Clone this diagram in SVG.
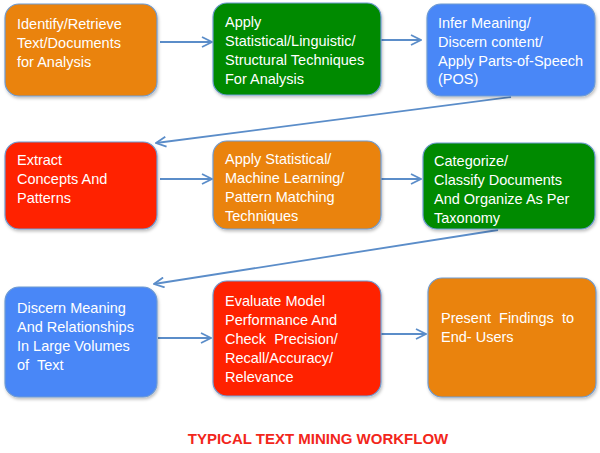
<svg xmlns="http://www.w3.org/2000/svg" width="600" height="453" viewBox="0 0 600 453">
<defs>
<marker id="ah" viewBox="0 0 12 12" refX="11" refY="6" markerWidth="12" markerHeight="12" markerUnits="userSpaceOnUse" orient="auto">
<path d="M1,1 L11,6 L1,11" fill="none" stroke="#5B8DC9" stroke-width="1.8"/>
</marker>
<filter id="sh" x="-10%" y="-10%" width="125%" height="130%">
<feDropShadow dx="1" dy="2" stdDeviation="1.5" flood-color="#000" flood-opacity="0.25"/>
</filter>
</defs>
<style>
.box{stroke:#6E9BD2;stroke-width:1.2;filter:url(#sh)}
.or{fill:#EA830B}.gr{fill:#038A03}.bl{fill:#4A87F7}.rd{fill:#FF2300}
.t{font-family:"Liberation Sans",Arial,sans-serif;font-size:14.5px;fill:#fff;white-space:pre}
.c{fill:none;stroke:#5B8DC9;stroke-width:1.8;marker-end:url(#ah)}
.title{font-family:"Liberation Sans",Arial,sans-serif;font-size:15px;font-weight:bold;fill:#F2261B}
</style>
<rect width="600" height="453" fill="#fff"/>
<g id="connectors">
<line class="c" x1="160" y1="42" x2="212" y2="42"/>
<line class="c" x1="370" y1="40" x2="421" y2="40"/>
<line class="c" x1="511" y1="97" x2="156" y2="143"/>
<line class="c" x1="160" y1="179" x2="212" y2="179"/>
<line class="c" x1="368" y1="179" x2="421" y2="179"/>
<line class="c" x1="498" y1="230" x2="154" y2="284"/>
<line class="c" x1="158" y1="338" x2="211" y2="338"/>
<line class="c" x1="374" y1="334" x2="426" y2="334"/>
</g>
<g id="n1">
<rect class="box or" x="5" y="4" width="152" height="92" rx="14"/>
<text class="t" x="17" y="29">Identify/Retrieve</text>
<text class="t" x="17" y="48">Text/Documents</text>
<text class="t" x="17" y="67">for Analysis</text>
</g>
<g id="n2">
<rect class="box gr" x="213" y="3" width="168" height="92" rx="14"/>
<text class="t" x="225" y="27">Apply</text>
<text class="t" x="225" y="46">Statistical/Linguistic/</text>
<text class="t" x="225" y="65">Structural Techniques</text>
<text class="t" x="225" y="84">For Analysis</text>
</g>
<g id="n3">
<rect class="box bl" x="427" y="4" width="168" height="92" rx="14"/>
<text class="t" x="438" y="28">Infer Meaning/</text>
<text class="t" x="438" y="47">Discern content/</text>
<text class="t" x="438" y="66">Apply Parts-of-Speech</text>
<text class="t" x="438" y="84">(POS)</text>
</g>
<g id="n4">
<rect class="box rd" x="5" y="142" width="152" height="87" rx="14"/>
<text class="t" x="17" y="165">Extract</text>
<text class="t" x="17" y="184">Concepts And</text>
<text class="t" x="17" y="203">Patterns</text>
</g>
<g id="n5">
<rect class="box or" x="213" y="141" width="168" height="88" rx="14"/>
<text class="t" x="225" y="164">Apply Statistical/</text>
<text class="t" x="225" y="183">Machine Learning/</text>
<text class="t" x="225" y="202">Pattern Matching</text>
<text class="t" x="225" y="221">Techniques</text>
</g>
<g id="n6">
<rect class="box gr" x="423" y="143" width="172" height="86" rx="14"/>
<text class="t" x="434" y="166">Categorize/</text>
<text class="t" x="434" y="185">Classify Documents</text>
<text class="t" x="434" y="204">And Organize As Per</text>
<text class="t" x="434" y="223">Taxonomy</text>
</g>
<g id="n7">
<rect class="box bl" x="5" y="287" width="152" height="110" rx="14"/>
<text class="t" x="17" y="313">Discern Meaning</text>
<text class="t" x="17" y="332">And Relationships</text>
<text class="t" x="17" y="351">In Large Volumes</text>
<text class="t" x="17" y="370">of  Text</text>
</g>
<g id="n8">
<rect class="box rd" x="213" y="281" width="168" height="115" rx="14"/>
<text class="t" x="225" y="306">Evaluate Model</text>
<text class="t" x="225" y="325">Performance And</text>
<text class="t" x="225" y="344">Check  Precision/</text>
<text class="t" x="225" y="363">Recall/Accuracy/</text>
<text class="t" x="225" y="382">Relevance</text>
</g>
<g id="n9">
<rect class="box or" x="428" y="278" width="168" height="119" rx="14"/>
<text class="t" x="441" y="323">Present  Findings  to</text>
<text class="t" x="441" y="342">End- Users</text>
</g>
<text class="title" x="318" y="444" text-anchor="middle">TYPICAL TEXT MINING WORKFLOW</text>
</svg>
